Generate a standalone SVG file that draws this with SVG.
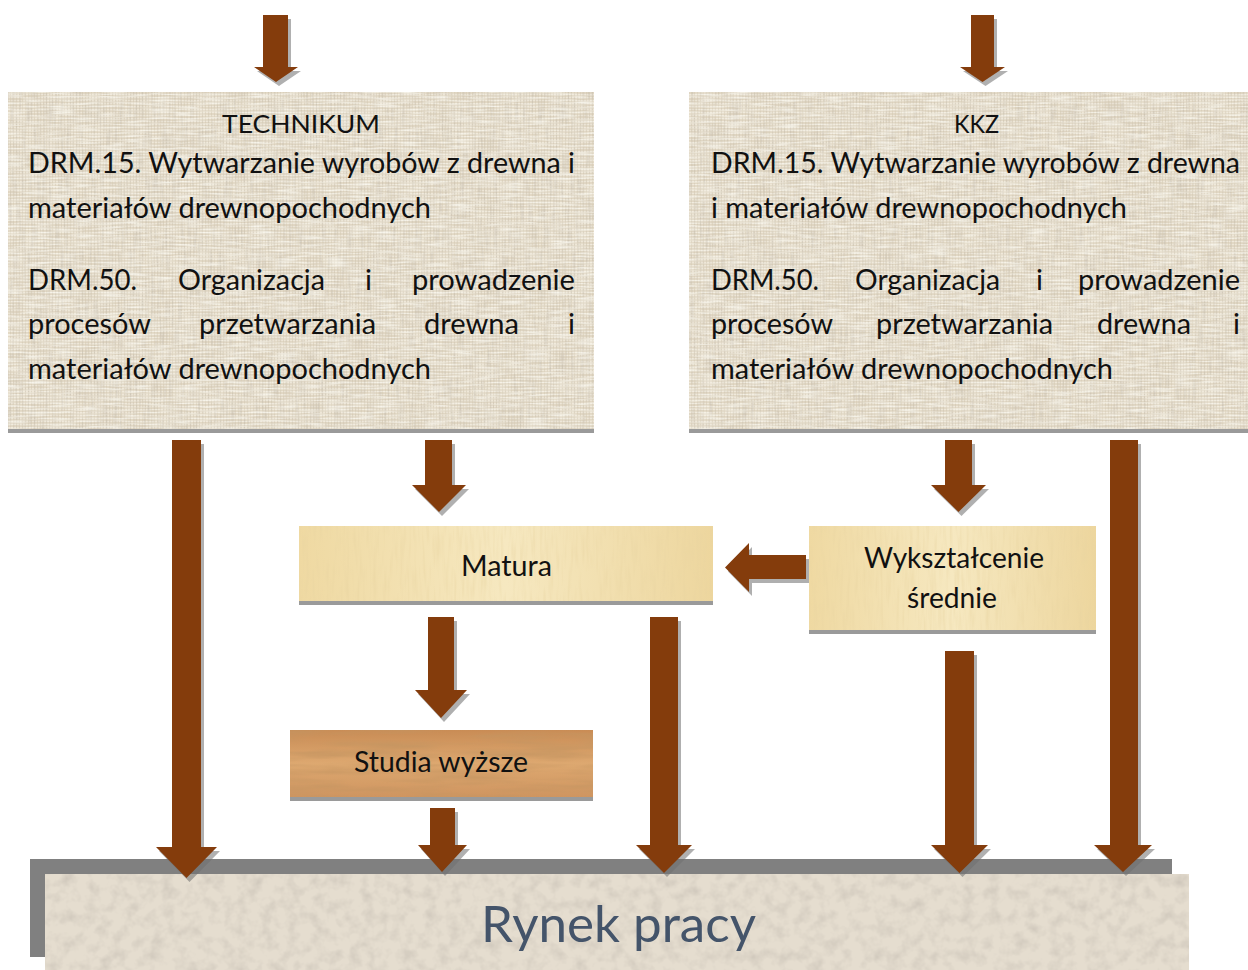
<svg xmlns="http://www.w3.org/2000/svg" xmlns:xlink="http://www.w3.org/1999/xlink" width="1248" height="970" viewBox="0 0 1248 970">
<style>
.t{font-family:Lato,"Liberation Sans","DejaVu Sans",sans-serif;font-size:29px;fill:#111}
.h{font-size:25px}
.big{font-family:Lato,"Liberation Sans","DejaVu Sans",sans-serif;font-size:51px;fill:#44546A}
.arr{fill:#843C0C}
.ash{fill:#6f6f6f;opacity:.55}
.bsh{fill:#9a9a9a}
</style>
<defs>
<pattern id="linen" width="6" height="6" patternUnits="userSpaceOnUse">
<rect width="6" height="6" fill="#E2D8C5"/>
<path d="M0 1.5H6M0 4.5H6" stroke="#EEE7D8" stroke-width="1"/>
<path d="M1.5 0V6M4.5 0V6" stroke="#D3C8B2" stroke-width=".8" opacity=".7"/>
</pattern>
<linearGradient id="papy" x1="0" y1="0" x2="1" y2="0">
<stop offset="0" stop-color="#EFD9A2"/>
<stop offset=".5" stop-color="#F6E8C0"/>
<stop offset="1" stop-color="#EDD69E"/>
</linearGradient>
<linearGradient id="wood" x1="0" y1="0" x2="0" y2="1">
<stop offset="0" stop-color="#C98C55"/>
<stop offset=".5" stop-color="#DDA870"/>
<stop offset="1" stop-color="#CF9560"/>
</linearGradient>
<filter id="nLinen" x="0" y="0" width="100%" height="100%">
<feTurbulence type="fractalNoise" baseFrequency="0.5 0.04" numOctaves="2" seed="4" result="n"/>
<feColorMatrix in="n" type="matrix" values="0 0 0 0 0.55  0 0 0 0 0.5  0 0 0 0 0.42  1.2 0 0 0 -0.5" result="c"/>
<feComposite in="c" in2="SourceGraphic" operator="in"/>
</filter>
<filter id="nLinenV" x="0" y="0" width="100%" height="100%">
<feTurbulence type="fractalNoise" baseFrequency="0.04 0.5" numOctaves="2" seed="9" result="n"/>
<feColorMatrix in="n" type="matrix" values="0 0 0 0 1  0 0 0 0 1  0 0 0 0 0.95  1.4 0 0 0 -0.55" result="c"/>
<feComposite in="c" in2="SourceGraphic" operator="in"/>
</filter>
<filter id="nPapy" x="0" y="0" width="100%" height="100%">
<feTurbulence type="fractalNoise" baseFrequency="0.3 0.03" numOctaves="2" seed="7" result="n"/>
<feColorMatrix in="n" type="matrix" values="0 0 0 0 0.8  0 0 0 0 0.65  0 0 0 0 0.35  1 0 0 0 -0.45" result="c"/>
<feComposite in="c" in2="SourceGraphic" operator="in"/>
</filter>
<filter id="nWood" x="0" y="0" width="100%" height="100%">
<feTurbulence type="fractalNoise" baseFrequency="0.012 0.12" numOctaves="3" seed="2" result="n"/>
<feColorMatrix in="n" type="matrix" values="0 0 0 0 0.55  0 0 0 0 0.3  0 0 0 0 0.12  1.6 0 0 0 -0.6" result="c"/>
<feComposite in="c" in2="SourceGraphic" operator="in"/>
</filter>
<filter id="nStone" x="0" y="0" width="100%" height="100%">
<feTurbulence type="fractalNoise" baseFrequency="0.08" numOctaves="3" seed="5" result="n"/>
<feColorMatrix in="n" type="matrix" values="0 0 0 0 0.6  0 0 0 0 0.55  0 0 0 0 0.48  1.5 0 0 0 -0.62" result="c"/>
<feComposite in="c" in2="SourceGraphic" operator="in"/>
</filter>
<path id="a1" d="M263,15 H288 V67 H298 L276,82 L254,67 H263 Z"/>
<path id="a2" d="M971,15 H994 V67 H1005 L982.5,82 L960,67 H971 Z"/>
<path id="a3" d="M172,440 H201 V847 H217 L186.5,878 L156,847 H172 Z"/>
<path id="a4" d="M425,440 H452 V485 H466 L439,512 L412,485 H425 Z"/>
<path id="a5" d="M945,440 H972 V485 H986 L958.5,512 L931,485 H945 Z"/>
<path id="a6" d="M1110,440 H1138 V845 H1152 L1123,872 L1094,845 H1110 Z"/>
<path id="a7" d="M806,555 V579 H749 V592 L725,567.5 L749,543 V555 Z"/>
<path id="a8" d="M428,617 H454 V690 H467 L441,718 L415,690 H428 Z"/>
<path id="a9" d="M650,617 H678 V845 H692 L664,873 L636,845 H650 Z"/>
<path id="a10" d="M945,651 H974 V845 H988 L959.5,873 L931,845 H945 Z"/>
<path id="a11" d="M430,808 H455 V845 H467 L442,872 L418,845 H430 Z"/>
</defs>
<rect width="1248" height="970" fill="#fff"/>

<g id="rynek">
<rect x="30" y="859" width="1142" height="98" fill="#808080"/>
<rect x="45" y="874" width="1144" height="96" fill="#E5DDCF"/>
<rect x="45" y="874" width="1144" height="96" fill="#000" filter="url(#nStone)"/>
<text class="big" x="481" y="942" textLength="275" lengthAdjust="spacingAndGlyphs">Rynek pracy</text>
</g>

<g id="technikum">
<rect class="bsh" x="8" y="96" width="586" height="337"/>
<rect x="8" y="92" width="586" height="337" fill="url(#linen)"/>
<rect x="8" y="92" width="586" height="337" fill="#000" filter="url(#nLinen)"/>
<rect x="8" y="92" width="586" height="337" fill="#000" filter="url(#nLinenV)"/>
<text class="t h" x="222" y="133" textLength="158" lengthAdjust="spacingAndGlyphs">TECHNIKUM</text>
<text class="t" x="28" y="173" textLength="547" lengthAdjust="spacingAndGlyphs">DRM.15. Wytwarzanie wyrobów z drewna i</text>
<text class="t" x="28" y="218" textLength="403" lengthAdjust="spacingAndGlyphs">materiałów drewnopochodnych</text>
<text class="t" x="28" y="290" textLength="109" lengthAdjust="spacingAndGlyphs">DRM.50.</text>
<text class="t" x="178" y="290" textLength="147" lengthAdjust="spacingAndGlyphs">Organizacja</text>
<text class="t" x="365" y="290">i</text>
<text class="t" x="412" y="290" textLength="163" lengthAdjust="spacingAndGlyphs">prowadzenie</text>
<text class="t" x="28" y="334" textLength="123" lengthAdjust="spacingAndGlyphs">procesów</text>
<text class="t" x="199" y="334" textLength="177" lengthAdjust="spacingAndGlyphs">przetwarzania</text>
<text class="t" x="424" y="334" textLength="95" lengthAdjust="spacingAndGlyphs">drewna</text>
<text class="t" x="575" y="334" text-anchor="end">i</text>
<text class="t" x="28" y="379" textLength="403" lengthAdjust="spacingAndGlyphs">materiałów drewnopochodnych</text>
</g>

<g id="kkz">
<rect class="bsh" x="689" y="96" width="559" height="337"/>
<rect x="689" y="92" width="559" height="337" fill="url(#linen)"/>
<rect x="689" y="92" width="559" height="337" fill="#000" filter="url(#nLinen)"/>
<rect x="689" y="92" width="559" height="337" fill="#000" filter="url(#nLinenV)"/>
<text class="t h" x="954" y="133" textLength="45" lengthAdjust="spacingAndGlyphs">KKZ</text>
<text class="t" x="711" y="173" textLength="529" lengthAdjust="spacingAndGlyphs">DRM.15. Wytwarzanie wyrobów z drewna</text>
<text class="t" x="711" y="218" textLength="416" lengthAdjust="spacingAndGlyphs">i materiałów drewnopochodnych</text>
<text class="t" x="711" y="290" textLength="108" lengthAdjust="spacingAndGlyphs">DRM.50.</text>
<text class="t" x="855" y="290" textLength="145" lengthAdjust="spacingAndGlyphs">Organizacja</text>
<text class="t" x="1036" y="290">i</text>
<text class="t" x="1078" y="290" textLength="162" lengthAdjust="spacingAndGlyphs">prowadzenie</text>
<text class="t" x="711" y="334" textLength="122" lengthAdjust="spacingAndGlyphs">procesów</text>
<text class="t" x="876" y="334" textLength="177" lengthAdjust="spacingAndGlyphs">przetwarzania</text>
<text class="t" x="1097" y="334" textLength="94" lengthAdjust="spacingAndGlyphs">drewna</text>
<text class="t" x="1240" y="334" text-anchor="end">i</text>
<text class="t" x="711" y="379" textLength="402" lengthAdjust="spacingAndGlyphs">materiałów drewnopochodnych</text>
</g>

<g id="matura">
<rect class="bsh" x="299" y="530" width="414" height="75"/>
<rect x="299" y="526" width="414" height="75" fill="url(#papy)"/>
<rect x="299" y="526" width="414" height="75" fill="#000" filter="url(#nPapy)"/>
<text class="t" x="461" y="576" textLength="91" lengthAdjust="spacingAndGlyphs">Matura</text>
</g>

<g id="wyksztalcenie">
<rect class="bsh" x="809" y="530" width="287" height="104"/>
<rect x="809" y="526" width="287" height="104" fill="url(#papy)"/>
<rect x="809" y="526" width="287" height="104" fill="#000" filter="url(#nPapy)"/>
<text class="t" x="864" y="568" textLength="180" lengthAdjust="spacingAndGlyphs">Wykształcenie</text>
<text class="t" x="907" y="608" textLength="90" lengthAdjust="spacingAndGlyphs">średnie</text>
</g>

<g id="studia">
<rect class="bsh" x="290" y="734" width="303" height="67"/>
<rect x="290" y="730" width="303" height="67" fill="url(#wood)"/>
<rect x="290" y="730" width="303" height="67" fill="#000" filter="url(#nWood)"/>
<text class="t" x="354" y="772" textLength="174" lengthAdjust="spacingAndGlyphs">Studia wyższe</text>
</g>

<g id="connectors">
<g class="ash" transform="translate(3,4)">
<use xlink:href="#a1"/><use xlink:href="#a2"/><use xlink:href="#a3"/><use xlink:href="#a4"/><use xlink:href="#a5"/><use xlink:href="#a6"/><use xlink:href="#a7"/><use xlink:href="#a8"/><use xlink:href="#a9"/><use xlink:href="#a10"/><use xlink:href="#a11"/>
</g>
<g class="arr">
<use xlink:href="#a1"/><use xlink:href="#a2"/><use xlink:href="#a3"/><use xlink:href="#a4"/><use xlink:href="#a5"/><use xlink:href="#a6"/><use xlink:href="#a7"/><use xlink:href="#a8"/><use xlink:href="#a9"/><use xlink:href="#a10"/><use xlink:href="#a11"/>
</g>
</g>
</svg>
